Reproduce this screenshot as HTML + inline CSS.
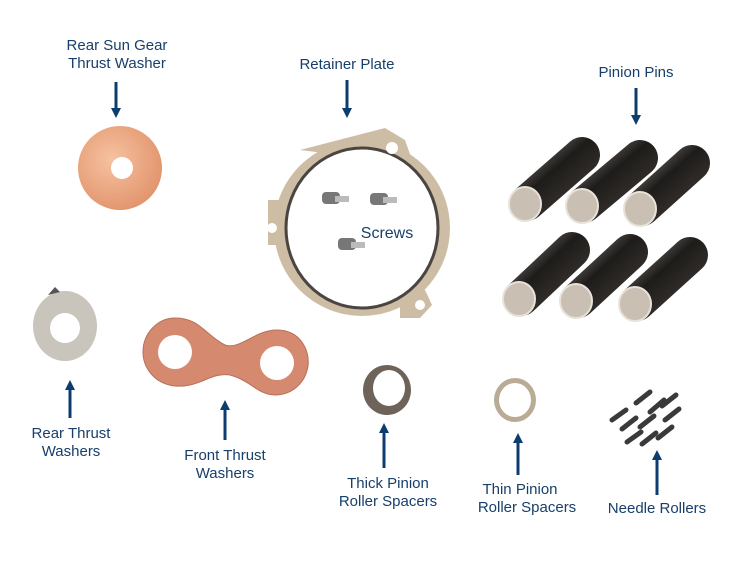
<!DOCTYPE html>
<html><head><style>
body{margin:0;background:#fff;}
svg text{font-family:"Liberation Sans",Arial,sans-serif;font-size:15px;fill:#173f6b;text-anchor:middle;}
</style></head><body>
<svg width="750" height="580" viewBox="0 0 750 580" xmlns="http://www.w3.org/2000/svg">
<defs>
<marker id="a" markerWidth="10" markerHeight="10" refX="5" refY="5" orient="auto" markerUnits="userSpaceOnUse"><path d="M0,0 L10,5 L0,10 z" fill="#0d3c6e"/></marker>
<linearGradient id="pin" x1="0" y1="0" x2="1" y2="1"><stop offset="0" stop-color="#6a6560"/><stop offset="0.4" stop-color="#1e1c1a"/><stop offset="1" stop-color="#3a3632"/></linearGradient>
<radialGradient id="cop" cx="0.4" cy="0.4" r="0.7"><stop offset="0" stop-color="#f6c2a0"/><stop offset="1" stop-color="#e09068"/></radialGradient>
</defs>
<g stroke="#0d3c6e" stroke-width="3" fill="none">
<line x1="116" y1="82" x2="116" y2="113" marker-end="url(#a)"/>
<line x1="347" y1="80" x2="347" y2="113" marker-end="url(#a)"/>
<line x1="636" y1="88" x2="636" y2="120" marker-end="url(#a)"/>
<line x1="70" y1="418" x2="70" y2="385" marker-end="url(#a)"/>
<line x1="225" y1="440" x2="225" y2="405" marker-end="url(#a)"/>
<line x1="384" y1="468" x2="384" y2="428" marker-end="url(#a)"/>
<line x1="518" y1="475" x2="518" y2="438" marker-end="url(#a)"/>
<line x1="657" y1="495" x2="657" y2="455" marker-end="url(#a)"/>
</g>
<text x="117" y="50">Rear Sun Gear</text><text x="117" y="68">Thrust Washer</text>
<text x="347" y="69">Retainer Plate</text>
<text x="636" y="77">Pinion Pins</text>
<text x="71" y="438">Rear Thrust</text><text x="71" y="456">Washers</text>
<text x="225" y="460">Front Thrust</text><text x="225" y="478">Washers</text>
<text x="388" y="488">Thick Pinion</text><text x="388" y="506">Roller Spacers</text>
<text x="520" y="494">Thin Pinion</text><text x="527" y="512">Roller Spacers</text>
<text x="657" y="513">Needle Rollers</text>
<circle cx="120" cy="168" r="42" fill="url(#cop)"/><circle cx="122" cy="168" r="11" fill="#fff"/>
<circle cx="362" cy="228" r="88" fill="#cdbda5"/>
<path d="M300,150 L385,128 L405,140 L412,160 L380,160 Z" fill="#cdbda5"/>
<path d="M268,200 L280,200 L280,245 L268,245 Z" fill="#cdbda5"/>
<path d="M400,300 L425,290 L432,305 L420,318 L400,318 Z" fill="#cdbda5"/>
<ellipse cx="362" cy="228" rx="76" ry="80" fill="#fff" stroke="#4a4540" stroke-width="3"/>
<circle cx="392" cy="148" r="6" fill="#fff"/><circle cx="272" cy="228" r="5" fill="#fff"/><circle cx="420" cy="305" r="5" fill="#fff"/>
<g fill="#777"><rect x="322" y="192" width="18" height="12" rx="4"/><rect x="335" y="196" width="14" height="6" fill="#bbb"/>
<rect x="370" y="193" width="18" height="12" rx="4"/><rect x="383" y="197" width="14" height="6" fill="#bbb"/>
<rect x="338" y="238" width="18" height="12" rx="4"/><rect x="351" y="242" width="14" height="6" fill="#bbb"/></g>
<text x="387" y="238" style="font-size:16px">Screws</text>
<g stroke="url(#pin)" stroke-width="36" stroke-linecap="round">
<line x1="527" y1="203" x2="582" y2="155"/><line x1="584" y1="205" x2="640" y2="158"/><line x1="642" y1="208" x2="692" y2="163"/>
<line x1="521" y1="298" x2="572" y2="250"/><line x1="578" y1="300" x2="630" y2="252"/><line x1="637" y1="303" x2="690" y2="255"/>
</g>
<g fill="#c9bfb3" stroke="#e8e2da" stroke-width="2">
<ellipse cx="525" cy="204" rx="16" ry="17"/><ellipse cx="582" cy="206" rx="16" ry="17"/><ellipse cx="640" cy="209" rx="16" ry="17"/>
<ellipse cx="519" cy="299" rx="16" ry="17"/><ellipse cx="576" cy="301" rx="16" ry="17"/><ellipse cx="635" cy="304" rx="16" ry="17"/>
</g>
<ellipse cx="65" cy="326" rx="32" ry="35" fill="#c9c5bd"/>
<path d="M48,295 L55,287 L60,292 Z" fill="#555"/>
<circle cx="65" cy="328" r="15" fill="#fff"/>
<path d="M175,318 C200,318 205,335 225,345 C240,350 255,330 277,330 C300,330 310,350 308,366 C305,385 290,395 275,395 C258,395 250,380 230,375 C210,372 200,388 175,386 C155,384 143,368 143,352 C143,333 158,318 175,318 Z" fill="#d58a70" stroke="#b87058"/>
<circle cx="175" cy="352" r="17" fill="#fff"/><circle cx="277" cy="363" r="17" fill="#fff"/>
<ellipse cx="387" cy="390" rx="24" ry="25" fill="#6e6358"/><ellipse cx="389" cy="388" rx="16" ry="18" fill="#fff"/>
<ellipse cx="515" cy="400" rx="21" ry="22" fill="#b9ab95"/><ellipse cx="515" cy="400" rx="16" ry="17" fill="#fff"/>
<g stroke="#3c3a38" stroke-width="5" stroke-linecap="round">
<line x1="636" y1="403" x2="650" y2="392"/><line x1="650" y1="412" x2="664" y2="400"/><line x1="662" y1="406" x2="676" y2="395"/>
<line x1="612" y1="420" x2="626" y2="410"/><line x1="622" y1="429" x2="636" y2="418"/><line x1="640" y1="427" x2="654" y2="416"/>
<line x1="665" y1="420" x2="679" y2="409"/><line x1="627" y1="442" x2="641" y2="432"/><line x1="642" y1="444" x2="656" y2="433"/><line x1="658" y1="438" x2="672" y2="427"/>
</g>
</svg>
</body></html>
